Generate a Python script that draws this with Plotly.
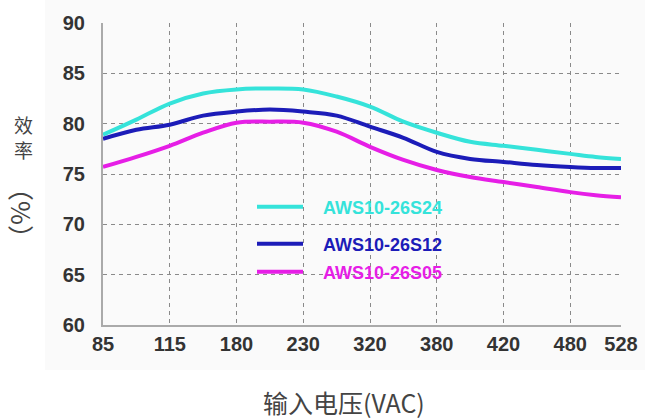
import numpy as np
import plotly.graph_objects as go

# ---- data ----
tick_voltages = [85, 115, 180, 230, 320, 380, 420, 480, 528]
tick_labels = ["85", "115", "180", "230", "320", "380", "420", "480", "528"]
# the chart's (non-linear) horizontal scale: axis position of each tick
tick_axis_pos = [0, 1, 2, 3, 4, 5, 6, 7, 7.76]

voltages = [85, 100, 115, 147.5, 180, 205, 230, 275, 320, 350, 380, 400, 420, 450, 480, 504, 528]
eff_s24 = [78.9, 80.4, 82.0, 83.0, 83.4, 83.5, 83.4, 82.7, 81.7, 80.2, 79.1, 78.2, 77.8, 77.4, 77.0, 76.7, 76.5]
eff_s12 = [78.5, 79.4, 79.9, 80.8, 81.2, 81.4, 81.2, 80.8, 79.7, 78.6, 77.2, 76.5, 76.2, 75.9, 75.7, 75.6, 75.6]
eff_s05 = [75.7, 76.7, 77.8, 79.1, 80.1, 80.2, 80.1, 79.2, 77.7, 76.4, 75.4, 74.7, 74.2, 73.7, 73.2, 72.9, 72.7]

series_names = ["AWS10-26S24", "AWS10-26S12", "AWS10-26S05"]
series_colors = ["#35e3da", "#1c1cb8", "#e61ee6"]


def to_axis(v):
    return np.interp(v, tick_voltages, tick_axis_pos)


fig = go.Figure()
legend_ids = ["legend", "legend2", "legend3"]
for name, vals, col, lg in zip(series_names, [eff_s24, eff_s12, eff_s05], series_colors, legend_ids):
    fig.add_trace(go.Scatter(
        x=to_axis(voltages), y=vals, mode="lines", name="&nbsp;&nbsp;&nbsp;<b>%s</b>" % name,
        line=dict(color=col, width=4, shape="spline", smoothing=1.0),
        legend=lg,
    ))

L, R, T, B = 103, 24, 23, 95
W, H = 645, 420
pw, ph = W - L - R, H - T - B


def px_x(px):
    return (px - L) / pw


def px_y(py):
    return (H - B - py) / ph


def legend_cfg(col, py):
    return dict(
        x=px_x(252), y=px_y(py), xanchor="left", yanchor="middle",
        bgcolor="rgba(0,0,0,0)", borderwidth=0,
        font=dict(family="Liberation Sans", size=18, color=col),
        itemwidth=46,
    )

axis_font = dict(family="Liberation Sans", size=20, color="#333333")

fig.update_layout(
    width=W, height=H,
    margin=dict(l=L, r=R, t=T, b=B),
    paper_bgcolor="white",
    plot_bgcolor="rgba(0,0,0,0)",
    showlegend=True,
    legend=legend_cfg(series_colors[0], 207),
    legend2=legend_cfg(series_colors[1], 244),
    legend3=legend_cfg(series_colors[2], 272),
    xaxis=dict(
        range=[0, 7.76], tickmode="array", tickvals=tick_axis_pos,
        ticktext=["<b>%s</b>" % t for t in tick_labels],
        tickfont=axis_font, showgrid=True, gridcolor="#8a8a8a", gridwidth=1,
        griddash="4px,4px", showline=True, linecolor="#aaaaaa", linewidth=2,
        zeroline=False, ticks="", ticklabelstandoff=0, automargin=False,
    ),
    yaxis=dict(
        range=[60, 90], tickmode="array", tickvals=[60, 65, 70, 75, 80, 85, 90],
        ticktext=["<b>%d</b>" % v for v in [60, 65, 70, 75, 80, 85, 90]],
        tickfont=axis_font, showgrid=True, gridcolor="#8a8a8a", gridwidth=1,
        griddash="4px,4px", showline=True, linecolor="#aaaaaa", linewidth=2,
        zeroline=False, ticks="", ticklabelstandoff=12, automargin=False,
    ),
    shapes=[dict(
        type="rect", xref="paper", yref="paper", layer="below",
        x0=px_x(45), x1=px_x(645), y0=px_y(370), y1=px_y(0),
        fillcolor="#fafafa", line=dict(width=0),
    )],
)

cjk = "Noto Sans CJK SC"
fig.add_annotation(text="效<br>率", xref="paper", yref="paper", x=px_x(23), y=px_y(137),
                   xanchor="center", yanchor="middle", showarrow=False,
                   font=dict(family=cjk, size=19, color="#444444"))
fig.add_annotation(text="（%）", xref="paper", yref="paper", x=px_x(23), y=px_y(213),
                   xanchor="center", yanchor="middle", showarrow=False, textangle=90,
                   font=dict(family=cjk, size=26, color="#444444"))
fig.add_annotation(text="输入电压(VAC)", xref="paper", yref="paper", x=px_x(344), y=px_y(402),
                   xanchor="center", yanchor="middle", showarrow=False,
                   font=dict(family=cjk, size=25, color="#444444"))

fig.write_html("out.html", config={"displayModeBar": False},
               post_script="document.body.style.margin='0px';")
